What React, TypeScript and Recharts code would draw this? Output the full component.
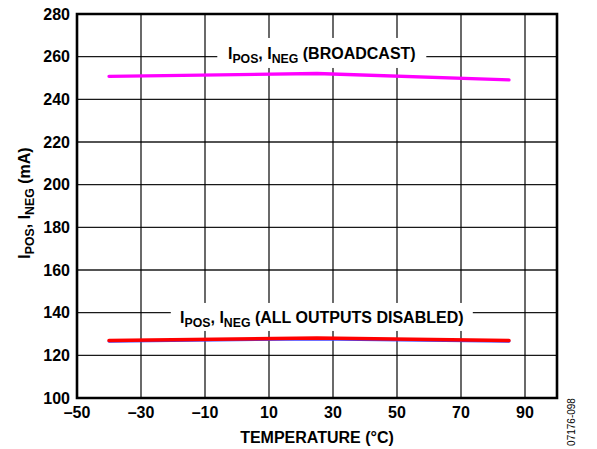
import React from 'react';
import { LineChart, Line, XAxis, YAxis, CartesianGrid, ReferenceArea, ReferenceDot, Label } from 'recharts';

const temps = [-40, 25, 85];
const broadcast = [250.8, 252.1, 249.1];
const disabledNeg = [126.6, 127.7, 126.6];
const disabledPos = [127.0, 128.1, 127.0];
const xTicks = [-50, -30, -10, 10, 30, 50, 70, 90];
const yTicks = [100, 120, 140, 160, 180, 200, 220, 240, 260, 280];

const rows = temps.map((t, i) => ({ t, broadcast: broadcast[i], neg: disabledNeg[i], pos: disabledPos[i] }));

const FONT = '"Liberation Sans", Arial, Helvetica, sans-serif';
const FS = 16;
const SUB = 12.3;

const Curr = ({ tail }: { tail: string }) => (
  <>
    <tspan>I</tspan>
    <tspan fontSize={SUB} dy={4}>POS</tspan>
    <tspan dy={-4}>, I</tspan>
    <tspan fontSize={SUB} dy={4}>NEG</tspan>
    <tspan dy={-4}>{tail}</tspan>
  </>
);

const makeTag = (tail: string, half: number, top: number, bottom: number, base: number) => (props: any) => {
  const { cx, cy } = props;
  return (
    <g>
      <rect x={cx - half} y={cy + top} width={half * 2} height={bottom - top} fill="#fff" />
      <text x={cx} y={cy + base} textAnchor="middle" fontFamily={FONT} fontWeight="bold" fontSize={FS} fill="#000">
        <Curr tail={tail} />
      </text>
    </g>
  );
};

const YTitle = (props: any) => {
  const vb = props.viewBox || { x: 17, y: 14, width: 60, height: 384 };
  const x = 30;
  const y = vb.y + vb.height / 2 - 3;
  return (
    <text x={x} y={y} transform={`rotate(-90 ${x} ${y})`} textAnchor="middle" fontFamily={FONT} fontWeight="bold" fontSize={FS} fill="#000">
      <Curr tail=" (mA)" />
    </text>
  );
};

const XTitle = (props: any) => {
  const vb = props.viewBox || { x: 77, y: 398, width: 480, height: 45 };
  return (
    <text x={vb.x + vb.width / 2} y={442.5} textAnchor="middle" fontFamily={FONT} fontWeight="bold" fontSize={FS} fill="#000">
      TEMPERATURE (°C)
    </text>
  );
};

const fmt = (v: number) => (v < 0 ? '\u2013' + Math.abs(v) : String(v));

export default function App() {
  const tick = { fill: '#000', fontSize: FS, fontWeight: 'bold', fontFamily: FONT };
  return (
    <div style={{ position: 'absolute', left: 0, top: 0, width: 597, height: 449 }}>
      <LineChart width={597} height={449} data={rows} margin={{ top: 14, right: 40, bottom: 6, left: 17 }}>
        <CartesianGrid stroke="#000" strokeWidth={1.3} strokeOpacity={0.9} />
        <XAxis dataKey="t" type="number" domain={[-50, 100]} ticks={xTicks} interval={0} height={45}
          axisLine={false} tickLine={false} tick={tick} tickMargin={3} tickFormatter={fmt} allowDataOverflow>
          <Label content={XTitle} />
        </XAxis>
        <YAxis type="number" domain={[100, 280]} ticks={yTicks} interval={0} width={60}
          axisLine={false} tickLine={false} tick={tick} tickMargin={1} allowDataOverflow>
          <Label content={YTitle} />
        </YAxis>
        <ReferenceArea x1={-50} x2={100} y1={100} y2={280} fill="none" stroke="#000" strokeWidth={2.6} />
        <ReferenceDot x={26.5} y={260} r={0} shape={makeTag(' (BROADCAST)', 104.5, -18.7, 11.3, 2.6)} />
        <ReferenceDot x={26.5} y={140} r={0} shape={makeTag(' (ALL OUTPUTS DISABLED)', 151, -9.7, 18.3, 10.3)} />
        <Line type="linear" dataKey="broadcast" stroke="#FF00FF" strokeWidth={3.3} dot={false} isAnimationActive={false} strokeLinecap="round" />
        <Line type="linear" dataKey="neg" stroke="#4040FF" strokeWidth={3} dot={false} isAnimationActive={false} strokeLinecap="round" />
        <Line type="linear" dataKey="pos" stroke="#FF0000" strokeWidth={3.5} dot={false} isAnimationActive={false} strokeLinecap="round" />
      </LineChart>
      <div style={{ position: 'absolute', left: 572, top: 422, transform: 'translate(-50%, -50%) rotate(-90deg)', fontFamily: FONT, fontSize: 10, color: '#000', whiteSpace: 'nowrap', lineHeight: 1 }}>
        07176-098
      </div>
    </div>
  );
}
